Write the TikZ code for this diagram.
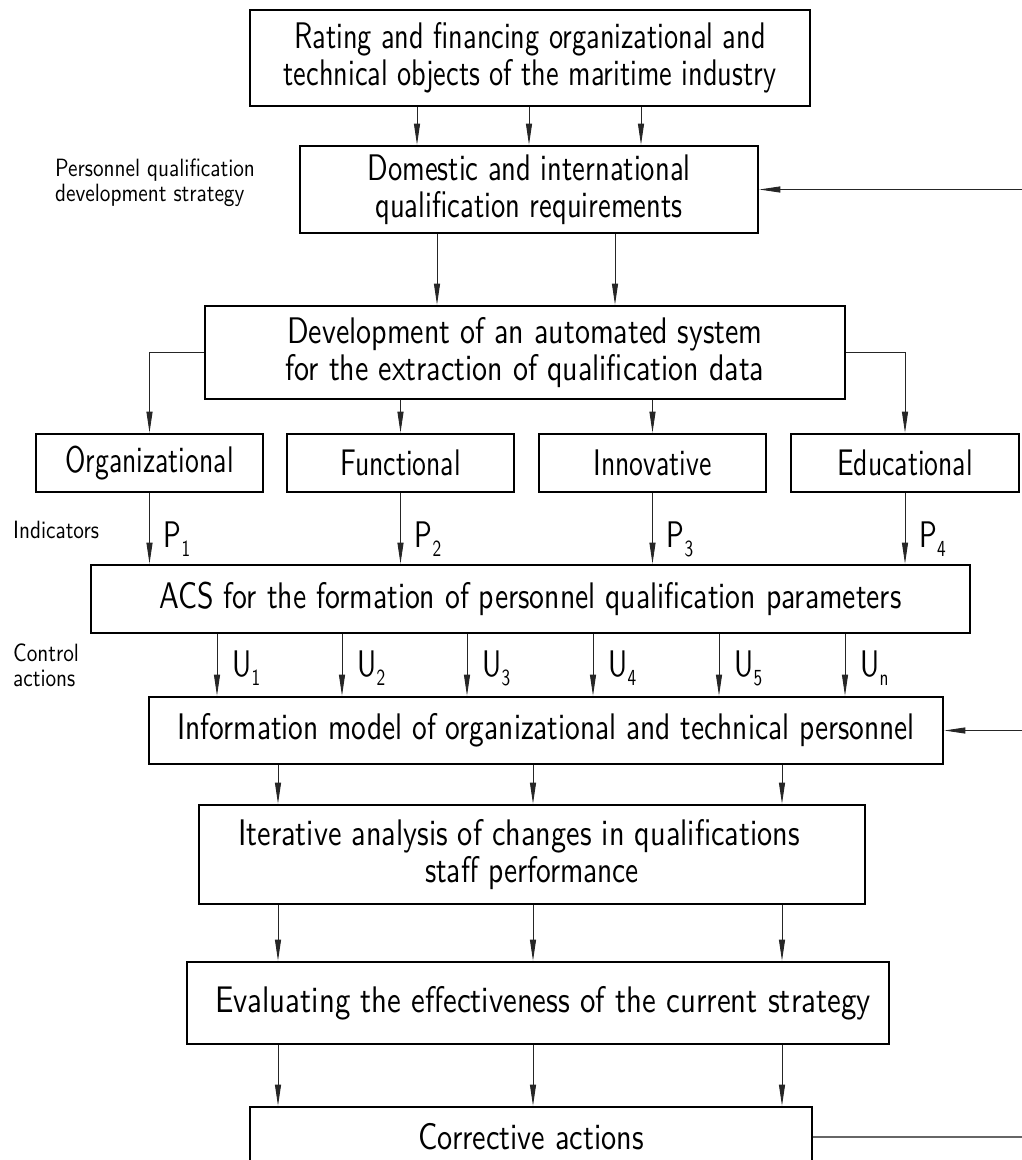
\documentclass[tikz,border=0pt]{standalone}
\usepackage{fontspec}
\usepackage{graphicx}
\setmainfont{lmsans10-regular.otf}[FakeStretch=0.75]
\newfontfamily\sidefont{lmsans10-regular.otf}[FakeStretch=0.85]
\usetikzlibrary{arrows.meta,calc}
\newcommand\bigtxt{\fontsize{37}{37}\selectfont}
\newcommand\smalltxt{\fontsize{23}{25}\selectfont}
\newcommand\sidetxt{\sidefont\fontsize{25}{25}\selectfont}
\newcommand\sbs[2]{#1\raisebox{-9pt}{\smalltxt #2}}
\newcommand\hstr[2]{\scalebox{#1}[1]{#2}}
\begin{document}
\begin{tikzpicture}[x=1pt,y=-1pt,
  box/.style={draw, line width=2.6pt, inner sep=0pt, align=center, font=\bigtxt},
  arr/.style={draw=black!85, line width=0.9pt, -{Triangle[length=21pt,width=6pt]}},
  lab/.style={inner sep=0pt, font=\bigtxt},
  side/.style={inner sep=0pt, font=\sidetxt, align=left, anchor=west}]
\useasboundingbox (0,0) rectangle (1022,1160);
\clip (0,0) rectangle (1022,1160);

% boxes
\node[box, minimum width=560pt, minimum height=96pt] (b1) at (530,58)
  {\hstr{1.02}{Rating and financing organizational and}\\\hstr{1.02}{technical objects of the maritime industry}};
\node[box, minimum width=458pt, minimum height=87pt] (b2) at (529,189.5)
  {\hstr{1.03}{Domestic and international}\\\hstr{1.03}{qualification requirements}};
\node[box, minimum width=640pt, minimum height=93pt] (b3) at (525,352.5)
  {\hstr{1.08}{Development of an automated system}\\\hstr{1.08}{for the extraction of qualification data}};
\node[box, minimum width=227pt, minimum height=58pt] (org) at (149.5,463) {Organizational};
\node[box, minimum width=227pt, minimum height=58pt] (fun) at (400.5,463) {Functional};
\node[box, minimum width=227pt, minimum height=58pt] (inn) at (652.5,463) {Innovative};
\node[box, minimum width=228pt, minimum height=58pt] (edu) at (905,463) {Educational};
\node[box, minimum width=879pt, minimum height=68pt] (acs) at (530.5,599)
  {\hstr{1.07}{ACS for the formation of personnel qualification parameters}};
\node[box, minimum width=794pt, minimum height=67pt] (info) at (546,730.5)
  {\hstr{1.06}{Information model of organizational and technical personnel}};
\node[box, minimum width=666pt, minimum height=99pt] (iter) at (532,854.5)
  {\hstr{1.09}{Iterative analysis of changes in qualifications}\hspace*{26pt}\\\hstr{1.06}{staff performance}};
\node[box, minimum width=702pt, minimum height=82pt] (eval) at (538,1003)
  {\hspace*{10pt}\hstr{1.11}{Evaluating the effectiveness of the current strategy}};
\node[box, minimum width=562pt, minimum height=60pt] (corr) at (531,1137)
  {\hstr{1.09}{Corrective actions}};

% side labels
\node[side] (lstrat) at (55,183) {Personnel qualification\\development strategy};
\node[side] (lind) at (13,530) {Indicators};
\node[side] (lctl) at (13,665) {Control\\actions};

% column coordinates
\coordinate (x417) at (417,0);
\coordinate (x529) at (529,0);
\coordinate (x641) at (641,0);
\coordinate (x437) at (437,0);
\coordinate (x615) at (615,0);
\coordinate (u1) at (217,0);
\coordinate (u2) at (342,0);
\coordinate (u3) at (467,0);
\coordinate (u4) at (593,0);
\coordinate (u5) at (719,0);
\coordinate (u6) at (845,0);
\coordinate (y1) at (278,0);
\coordinate (y2) at (533,0);
\coordinate (y3) at (782,0);
\coordinate (fb) at (1045,0);

% b1 -> b2
\foreach \c in {x417,x529,x641}
  \draw[arr] (b1.south -| \c) -- (b2.north -| \c);
% b2 -> b3
\foreach \c in {x437,x615}
  \draw[arr] (b2.south -| \c) -- (b3.north -| \c);
% b3 -> categories
\draw[arr] (b3.west) -- (b3.west -| org.north) -- (org.north);
\draw[arr] (b3.east) -- (b3.east -| edu.north) -- (edu.north);
\draw[arr] (b3.south -| fun.north) -- (fun.north);
\draw[arr] (b3.south -| inn.north) -- (inn.north);
% categories -> ACS
\draw[arr] (org.south) -- node[lab, pos=0.77, anchor=base west, xshift=14pt] {\sbs{P}{1}} (org.south |- acs.north);
\draw[arr] (fun.south) -- node[lab, pos=0.77, anchor=base west, xshift=14pt] {\sbs{P}{2}} (fun.south |- acs.north);
\draw[arr] (inn.south) -- node[lab, pos=0.77, anchor=base west, xshift=14pt] {\sbs{P}{3}} (inn.south |- acs.north);
\draw[arr] (edu.south) -- node[lab, pos=0.77, anchor=base west, xshift=14pt] {\sbs{P}{4}} (edu.south |- acs.north);
% ACS -> info
\foreach \c/\s in {u1/1,u2/2,u3/3,u4/4,u5/5,u6/n}
  \draw[arr] (acs.south -| \c) -- node[lab, pos=0.69, anchor=base west, xshift=15pt] {\sbs{U}{\s}} (info.north -| \c);
% info -> iter -> eval -> corr
\foreach \c in {y1,y2,y3} {
  \draw[arr] (info.south -| \c) -- (iter.north -| \c);
  \draw[arr] (iter.south -| \c) -- (eval.north -| \c);
  \draw[arr] (eval.south -| \c) -- (corr.north -| \c);
}
% feedback
\draw[draw=black!60, line width=1.5pt] (corr.east) -- (corr.east -| fb) -- (fb |- b2.east);
\draw[arr] (fb |- b2.east) -- (b2.east);
\draw[arr] (fb |- info.east) -- (info.east);
\end{tikzpicture}
\end{document}
